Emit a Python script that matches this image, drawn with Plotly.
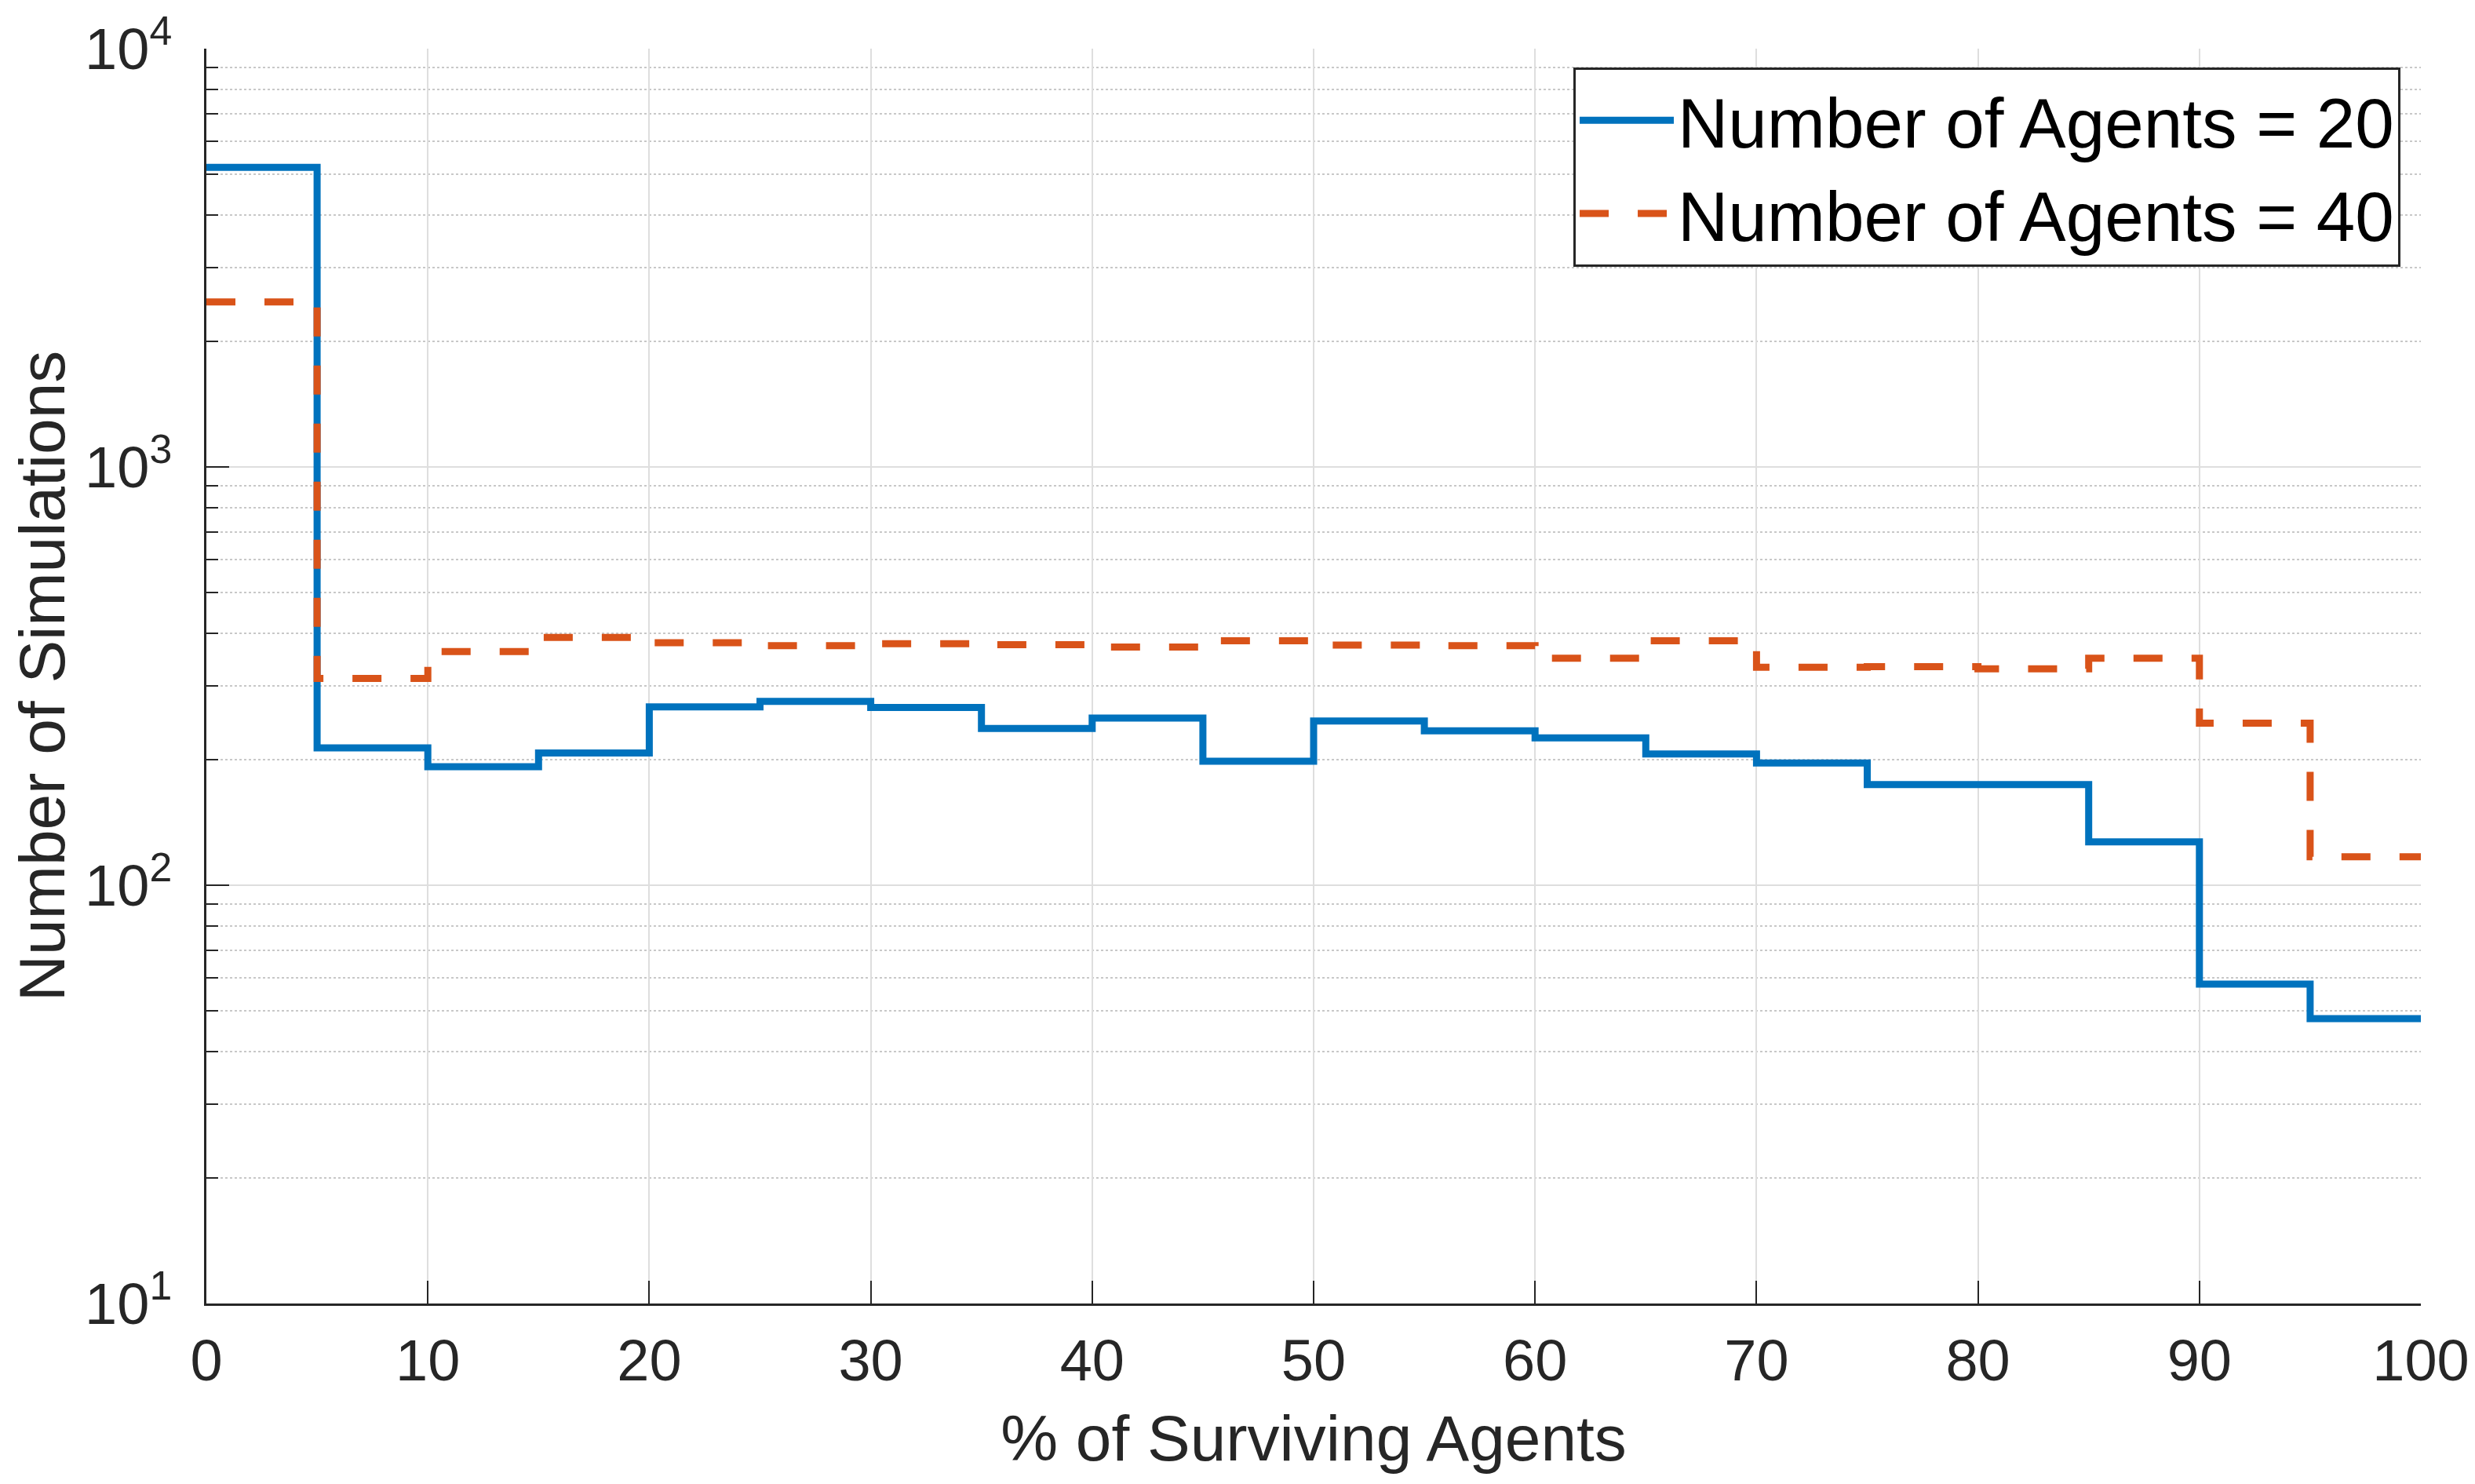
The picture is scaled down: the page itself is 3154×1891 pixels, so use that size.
import plotly.graph_objects as go

bin_edges = [0, 5, 10, 15, 20, 25, 30, 35, 40, 45, 50, 55, 60, 65, 70, 75, 80, 85, 90, 95, 100]
counts_20 = [5200, 213, 192, 207, 267, 275, 266, 237, 251, 198, 247, 234, 225, 206, 196, 174, 174, 127, 58, 48]
counts_40 = [2480, 312, 362, 391, 380, 374, 378, 376, 371, 384, 375, 374, 349, 384, 332, 333, 329, 349, 244, 117]
x_ticks = [0, 10, 20, 30, 40, 50, 60, 70, 80, 90, 100]
y_ticks = [10, 100, 1000, 10000]
y_tick_text = ["10<sup>1</sup>", "10<sup>2</sup>", "10<sup>3</sup>", "10<sup>4</sup>"]
names = ["Number of Agents = 20", "Number of Agents = 40"]

FONT = "Liberation Sans, Arial, sans-serif"
DARK = "#262626"

fig = go.Figure()
fig.add_trace(go.Scatter(
    x=bin_edges, y=counts_20 + [counts_20[-1]], mode="lines", line_shape="hv",
    name=names[0], line=dict(color="#0072BD", width=9)))
fig.add_trace(go.Scatter(
    x=bin_edges, y=counts_40 + [counts_40[-1]], mode="lines", line_shape="hv",
    name=names[1], line=dict(color="#D95319", width=9, dash="37px,37px")))

fig.update_layout(
    width=3154, height=1891,
    margin=dict(l=255, r=77, t=54, b=238),
    paper_bgcolor="white", plot_bgcolor="white",
    font=dict(family=FONT, color=DARK, size=74),
    showlegend=True,
    legend=dict(
        x=0.9908, y=0.985, xanchor="right", yanchor="top",
        bgcolor="white", bordercolor=DARK, borderwidth=3,
        font=dict(family=FONT, size=89, color="black"),
        tracegroupgap=0, itemwidth=120,
    ),
)

fig.update_xaxes(
    range=[0, 100], tickvals=x_ticks, ticks="inside", ticklen=29, tickwidth=2,
    tickcolor=DARK, showline=True, linecolor=DARK, linewidth=3, mirror=False,
    showgrid=True, gridcolor="#dedede", gridwidth=2, zeroline=False, automargin=False,
    tickfont=dict(size=74, family=FONT, color=DARK), ticklabelstandoff=6,
    title=dict(text="% of Surviving Agents", font=dict(size=82, family=FONT, color=DARK), standoff=30),
)
fig.update_yaxes(
    type="log", range=[1, 4], tickvals=y_ticks, ticktext=y_tick_text,
    ticks="inside", ticklen=29, tickwidth=2, tickcolor=DARK,
    showline=True, linecolor=DARK, linewidth=3, mirror=False,
    showgrid=True, gridcolor="#dedede", gridwidth=2, zeroline=False, automargin=False,
    tickfont=dict(size=74, family=FONT, color=DARK), ticklabelstandoff=26,
    title=dict(text="Number of Simulations", font=dict(size=82, family=FONT, color=DARK), standoff=20),
    minor=dict(ticks="inside", ticklen=15, tickwidth=2, tickcolor=DARK,
               showgrid=True, gridcolor="#c8c8c8", gridwidth=2, griddash="dot",
               dtick="D1"),
)

fig.write_html("out.html")
